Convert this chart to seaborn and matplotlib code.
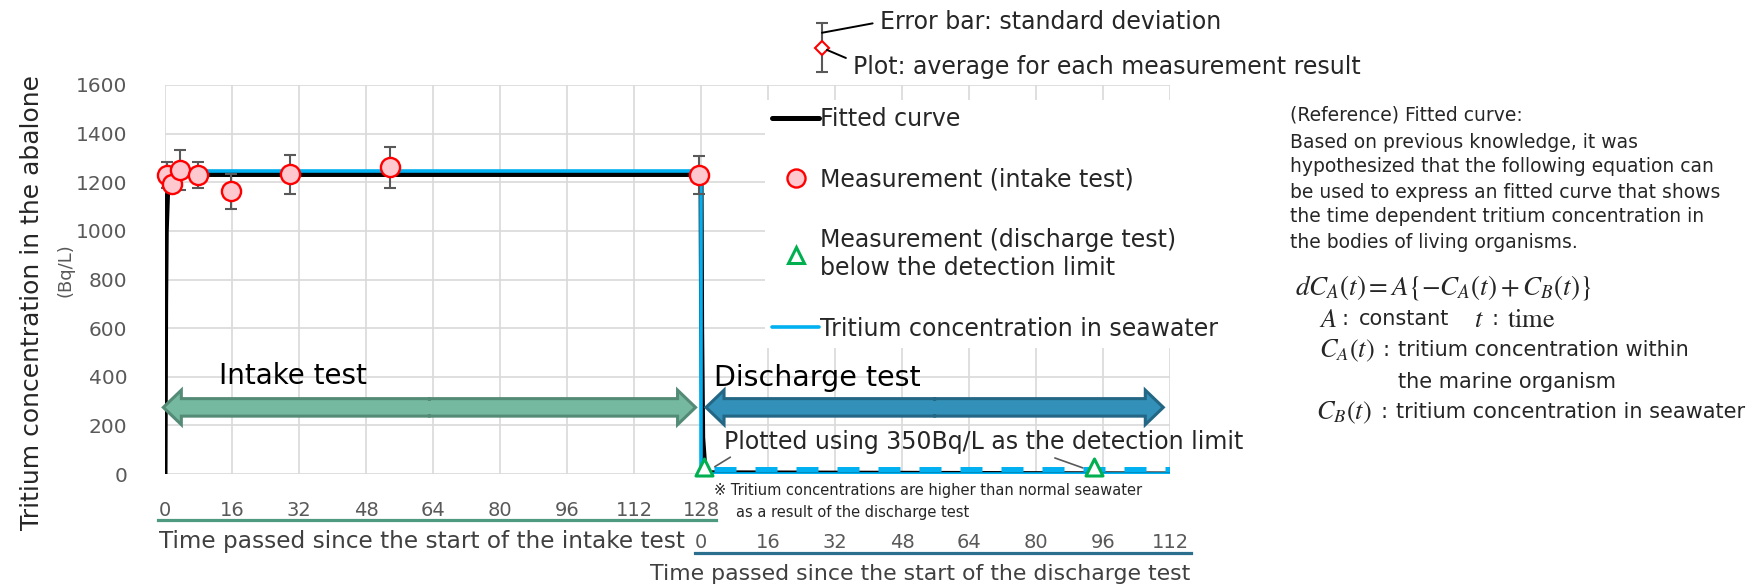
import numpy as np
import pandas as pd
import matplotlib
matplotlib.use("Agg")
import matplotlib.pyplot as plt
import seaborn as sns
from matplotlib.lines import Line2D
from matplotlib.patches import FancyArrow, Rectangle

# ---------------- data ----------------
intake_time = [0.5, 1.6, 3.7, 7.8, 15.8, 29.8, 53.7, 127.6]        # h since start of intake test
intake_mean = [1230, 1193, 1250, 1230, 1162, 1232, 1262, 1230]     # Bq/L
intake_sd = [52, 32, 82, 52, 72, 80, 85, 80]

discharge_time = [0.7, 93.9]      # h since start of discharge test
discharge_value = [30, 30]        # plotted at detection limit (below detection)

fit_time = [0, 0.15, 0.3, 0.6, 1.2, 2.5, 128, 128.15, 128.4, 129, 240]
fit_value = [0, 700, 1000, 1150, 1210, 1232, 1232, 600, 150, 5, 0]

seawater_time = [0, 128, 128, 240]
seawater_value = [1245, 1245, 0, 0]
seawater_dl_time = [131, 240]
seawater_dl_value = [22, 22]

DISCHARGE_START = 128
intake_ticks = list(range(0, 129, 16))
discharge_ticks = list(range(0, 113, 16))
grid_ticks = list(range(0, 241, 16))
y_ticks = list(range(0, 1601, 200))

legend_labels = ["Fitted curve", "Measurement (intake test)",
                 "Measurement (discharge test)\nbelow the detection limit",
                 "Tritium concentration in seawater"]

# ---------------- style ----------------
sns.set_theme(style="whitegrid")
plt.rcParams["font.family"] = ["DejaVu Sans", "Noto Sans CJK JP"]
plt.rcParams["mathtext.fontset"] = "stix"
plt.rcParams["grid.color"] = "#d9d9d9"
plt.rcParams["grid.linewidth"] = 1.2

W, H = 1760, 587
fig = plt.figure(figsize=(W / 100, H / 100), dpi=100)
ax = fig.add_axes([165 / W, 1 - 474 / H, 1005 / W, 389 / H])

BLACK = "#000000"
BLUE = "#00b0f0"
RED = "#ff0000"
PINK = "#ffc7ce"
GREEN = "#00b050"
GRAY = "#595959"

# fitted curve & seawater
sns.lineplot(x=fit_time, y=fit_value, sort=False, estimator=None, color=BLACK,
             lw=3.6, ax=ax, zorder=3)
sns.lineplot(x=seawater_time, y=seawater_value, sort=False, estimator=None, color=BLUE,
             lw=2.6, ax=ax, zorder=4)
sns.lineplot(x=seawater_dl_time, y=seawater_dl_value, sort=False, estimator=None, color=BLUE,
             lw=3.6, ax=ax, zorder=4, dashes=False)
ax.lines[-1].set_dashes((4.4, 3.8))
ax.lines[-1].set_solid_capstyle("butt")

# measurements with error bars
ax.errorbar(intake_time, intake_mean, yerr=intake_sd, fmt="none", ecolor=GRAY,
            elinewidth=1.5, capsize=4.5, capthick=1.5, zorder=5, clip_on=False)
sns.scatterplot(x=intake_time, y=intake_mean, marker="o", s=190, color=PINK,
                edgecolor=RED, linewidth=1.7, ax=ax, zorder=6, clip_on=False)
sns.scatterplot(x=[DISCHARGE_START + t for t in discharge_time], y=discharge_value,
                marker="^", s=150, color="white", edgecolor=GREEN, linewidth=2.2,
                ax=ax, zorder=7, clip_on=False)

# axes
ax.set_xlim(0, 240)
ax.set_ylim(0, 1600)
ax.set_xticks(grid_ticks)
ax.set_yticks(y_ticks)
ax.tick_params(axis="x", labelbottom=False, length=0)
ax.tick_params(axis="y", length=0, pad=27, labelsize=14.5, labelcolor=GRAY)
for s in ax.spines.values():
    s.set_visible(False)
ax.set_xlabel("")
ax.set_ylabel("")

# intake-time axis
sec1 = ax.secondary_xaxis(-0.118)
sec1.set_alignment("top")
sec1.set_xticks(intake_ticks)
sec1.tick_params(axis="x", length=0, pad=0, labelsize=14, labelcolor=GRAY)
sec1.spines["top"].set_bounds(-1.7, 131.5)
sec1.spines["top"].set_color("#4e9a80")
sec1.spines["top"].set_linewidth(2.3)
sec1.xaxis.set_label_position("bottom")
sec1.set_xlabel("Time passed since the start of the intake test", x=-0.006, ha="left",
                fontsize=16.7, color="#404040", labelpad=7.5)
sec1.grid(False)

# discharge-time axis
sec2 = ax.secondary_xaxis(-0.203, functions=(lambda x: x - DISCHARGE_START,
                                             lambda x: x + DISCHARGE_START))
sec2.set_alignment("top")
sec2.set_xticks(discharge_ticks)
sec2.tick_params(axis="x", length=0, pad=1, labelsize=14, labelcolor=GRAY)
sec2.spines["top"].set_bounds(-1.4, 117)
sec2.spines["top"].set_color("#2b6f8f")
sec2.spines["top"].set_linewidth(2.3)
sec2.xaxis.set_label_position("bottom")
sec2.set_xlabel("Time passed since the start of the discharge test", x=0.751,
                ha="center", fontsize=15.8, color="#404040", labelpad=8)
sec2.grid(False)

# y label
fig.text(32 / W, 1 - 303 / H, "Tritium concentration in the abalone", rotation=90,
         ha="center", va="center", fontsize=18, color="#262626")
fig.text(65 / W, 1 - 270 / H, "(Bq/L)", rotation=90, ha="center", va="center",
         fontsize=13, color=GRAY)


# double-headed arrows
def double_arrow(x0, x1, y, face, edge):
    mid = (x0 + x1) / 2
    kw = dict(width=72, head_width=142, head_length=4.3, length_includes_head=True,
              facecolor=face, edgecolor=edge, lw=2.2, zorder=8, clip_on=False)
    ax.add_patch(FancyArrow(mid, y, x0 - mid, 0, **kw))
    ax.add_patch(FancyArrow(mid, y, x1 - mid, 0, **kw))
    ax.add_patch(Rectangle((mid - 3, y - 28), 6, 56, facecolor=face, edgecolor="none",
                           zorder=9))


double_arrow(-0.4, 126.7, 274, "#74b9a0", "#548b76")
double_arrow(129.2, 238.4, 274, "#3390b8", "#236785")
ax.text(12.9, 402, "Intake test", fontsize=20, va="center", ha="left", color="black")
ax.text(131, 396, "Discharge test", fontsize=20.5, va="center", ha="left", color="black")

# detection-limit annotation
t1x = DISCHARGE_START + discharge_time[0]
t2x = DISCHARGE_START + discharge_time[1]
ax.annotate("Plotted using 350Bq/L as the detection limit", xy=(t1x + 2.6, discharge_value[0]),
            xytext=(133.5, 132), textcoords="data", va="center", ha="left", fontsize=17,
            arrowprops=dict(arrowstyle="-", color=GRAY, lw=1.2, relpos=(0.03, 0.1),
                            shrinkA=0, shrinkB=0), zorder=10)
ax.annotate("", xy=(t2x - 2.7, discharge_value[1] - 5), xytext=(t2x - 9.4, 66),
            arrowprops=dict(arrowstyle="-", color=GRAY, lw=1.2, shrinkA=0, shrinkB=0))

# legend
handles = [Line2D([], [], color=BLACK, lw=3.6),
           Line2D([], [], ls="none", marker="o", ms=13, mfc=PINK, mec=RED, mew=1.7),
           Line2D([], [], ls="none", marker="^", ms=11, mfc="white", mec=GREEN, mew=2.2),
           Line2D([], [], color=BLUE, lw=2.6)]
leg = ax.legend(handles, legend_labels, loc="upper left",
                bbox_to_anchor=(765 / W, 1 - 100 / H), bbox_transform=fig.transFigure,
                fontsize=17, frameon=True, facecolor="white", edgecolor="none",
                framealpha=1, fancybox=False, labelspacing=1.55, handlelength=2.0,
                handletextpad=0.05, borderpad=0.3, borderaxespad=0)
leg.set_zorder(2.5)

# note under the axis
fig.text(714 / W, 1 - 490 / H, "※ Tritium concentrations are higher than normal seawater",
         fontsize=10.5, va="center", ha="left", color="#262626")
fig.text(736 / W, 1 - 512 / H, "as a result of the discharge test",
         fontsize=10.5, va="center", ha="left", color="#262626")

# error-bar explanation icon
ax_icon = fig.add_axes([812 / W, 1 - 75 / H, 20 / W, 55 / H])
ax_icon.errorbar([0], [0], yerr=[1], fmt="D", ms=7, mfc="white", mec=RED, mew=1.5,
                 ecolor=GRAY, elinewidth=1.5, capsize=4, capthick=1.5)
ax_icon.set_xlim(-1, 1)
ax_icon.set_ylim(-1.12, 1.12)
ax_icon.axis("off")
ax_icon.annotate("Error bar: standard deviation", xy=(0, 0.6), xytext=(880, H - 22),
                 textcoords="figure pixels", va="center", ha="left", fontsize=17,
                 arrowprops=dict(arrowstyle="-", color="black", lw=1.4, relpos=(0, 0.5),
                                 shrinkA=3, shrinkB=0))
ax_icon.annotate("Plot: average for each measurement result", xy=(0.5, -0.1),
                 xytext=(853, H - 67), textcoords="figure pixels", va="center", ha="left",
                 fontsize=17,
                 arrowprops=dict(arrowstyle="-", color="black", lw=1.4, relpos=(0, 0.75),
                                 shrinkA=3, shrinkB=0))

# reference text block
ref_lines = ["(Reference) Fitted curve:",
             "Based on previous knowledge, it was",
             "hypothesized that the following equation can",
             "be used to express an fitted curve that shows",
             "the time dependent tritium concentration in",
             "the bodies of living organisms."]
ref_y = [115, 142, 167, 192, 217, 243]
for txt, yy in zip(ref_lines, ref_y):
    fig.text(1290 / W, 1 - yy / H, txt, fontsize=13.5, va="center", ha="left")


def ftext(px, py, s, size, **kw):
    fig.text(px / W, 1 - py / H, s, fontsize=size, va="center", ha="left", **kw)


ftext(1295, 288, r"$dC_A(t) = A\{-C_A(t) + C_B(t)\}$", 19.5)
ftext(1319, 320, r"$A$", 19)
ftext(1341, 319, ":", 15)
ftext(1359, 319, "constant", 15)
ftext(1474, 320, r"$t$", 19)
ftext(1491, 319, ":", 15)
ftext(1507, 320, r"$\mathrm{time}$", 19)
ftext(1319, 351, r"$C_A(t)$", 19)
ftext(1382, 350, ":", 15)
ftext(1398, 350, "tritium concentration within", 15)
ftext(1398, 382, "the marine organism", 15)
ftext(1316, 413, r"$C_B(t)$", 19)
ftext(1380, 412, ":", 15)
ftext(1396, 412, "tritium concentration in seawater", 15)

fig.savefig("out.png", dpi=100)
